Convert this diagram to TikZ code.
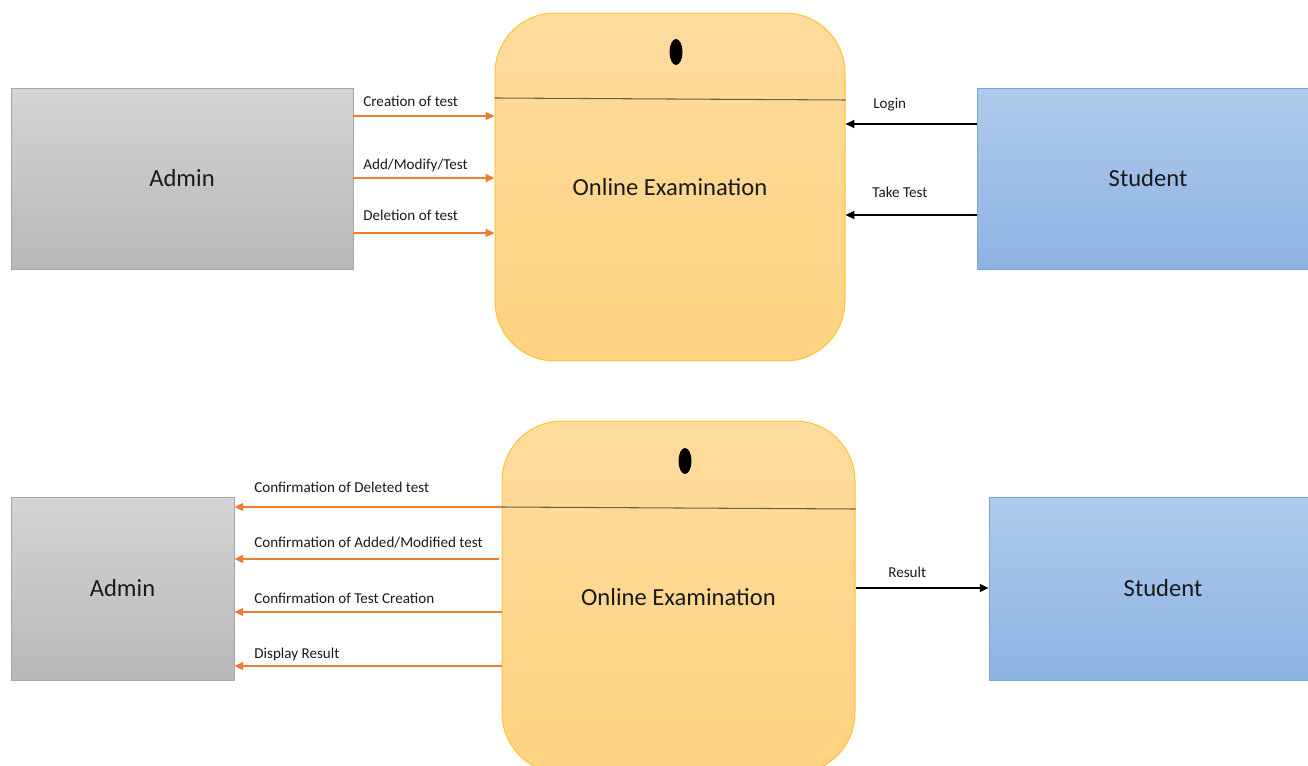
\documentclass[tikz,border=0pt]{standalone}
\usepackage{fontspec}
\setmainfont{Carlito}
\usetikzlibrary{arrows.meta}
\definecolor{orangeA}{HTML}{ED7D31}
\definecolor{examTop}{HTML}{FEDC9E}
\definecolor{examBot}{HTML}{FED380}
\definecolor{examBorder}{HTML}{FFC53A}
\definecolor{admTop}{HTML}{D4D4D4}
\definecolor{admBot}{HTML}{B8B8B8}
\definecolor{admBorder}{HTML}{A6A6A6}
\definecolor{stuTop}{HTML}{AECAEB}
\definecolor{stuBot}{HTML}{8DB3E2}
\definecolor{stuBorder}{HTML}{7EA4D5}
\definecolor{sepLine}{HTML}{6E6048}
\definecolor{txt}{HTML}{1A1A1A}
\begin{document}
\begin{tikzpicture}[x=0.02cm,y=-0.02cm,
  admbox/.style={draw=admBorder,line width=0.5pt,top color=admTop,bottom color=admBot,font=\fontsize{14}{16}\selectfont,text=txt},
  stubox/.style={draw=stuBorder,line width=0.5pt,top color=stuTop,bottom color=stuBot,font=\fontsize{14}{16}\selectfont,text=txt},
  exambox/.style={draw=examBorder,line width=0.6pt,top color=examTop,bottom color=examBot,rounded corners=1.2cm,font=\fontsize{14}{16}\selectfont,text=txt},
  oarrow/.style={draw=orangeA,line width=0.9pt,-{Triangle[length=5pt,width=4.5pt]}},
  karrow/.style={draw=black,line width=0.9pt,-{Triangle[length=5pt,width=4.5pt]}},
  lbl/.style={anchor=base west,inner sep=0pt,font=\fontsize{8.6}{10}\selectfont,text=txt},
  sep/.style={draw=sepLine,line width=0.6pt},
  dot/.style={fill=black}
]
\useasboundingbox (0,0) rectangle (1308,766);

% ---------- top diagram ----------
\node[admbox,minimum width=6.84cm,minimum height=3.62cm] (admin1) at (182,178.5) {Admin};
\node[exambox,minimum width=7.0cm,minimum height=6.96cm] (exam1) at (670,187) {Online Examination};
\node[stubox,minimum width=6.84cm,minimum height=3.62cm] (student1) at (1148,178.5) {Student};
\draw[sep] (exam1.west |- 0,98) -- (exam1.east |- 0,100);
\fill[dot] (676,52) ellipse [x radius=0.13cm,y radius=0.26cm];

\draw[oarrow] (admin1.east |- 0,116) -- (exam1.west |- 0,116);
\draw[oarrow] (admin1.east |- 0,178) -- (exam1.west |- 0,178);
\draw[oarrow] (admin1.east |- 0,233) -- (exam1.west |- 0,233);
\node[lbl] (l1) at (363,107) {Creation of test};
\node[lbl] (l2) at (363,170) {Add/Modify/Test};
\node[lbl] (l3) at (363,221) {Deletion of test};

\draw[karrow] (student1.west |- 0,124) -- (exam1.east |- 0,124);
\draw[karrow] (student1.west |- 0,215) -- (exam1.east |- 0,215);
\node[lbl] (l4) at (873,109) {Login};
\node[lbl] (l5) at (872,198) {Take Test};

% ---------- bottom diagram ----------
\node[admbox,minimum width=4.46cm,minimum height=3.66cm] (admin2) at (122.5,588.5) {Admin};
\node[exambox,minimum width=7.06cm,minimum height=7.04cm] (exam2) at (678.5,597) {Online Examination};
\node[stubox,minimum width=6.96cm,minimum height=3.66cm] (student2) at (1163,588.5) {Student};
\draw[sep] (exam2.west |- 0,507) -- (exam2.east |- 0,509);
\fill[dot] (685,461) ellipse [x radius=0.13cm,y radius=0.26cm];

\draw[oarrow] (exam2.west |- 0,507) -- (admin2.east |- 0,507);
\draw[oarrow] ([xshift=-0.06cm]exam2.west |- 0,559) -- (admin2.east |- 0,559);
\draw[oarrow] (exam2.west |- 0,612) -- (admin2.east |- 0,612);
\draw[oarrow] (exam2.west |- 0,666) -- (admin2.east |- 0,666);
\node[lbl] (l6) at (254,493) {Confirmation of Deleted test};
\node[lbl] (l7) at (254,547) {Confirmation of Added/Modified test};
\node[lbl] (l8) at (254,603) {Confirmation of Test Creation};
\node[lbl] (l9) at (254,658) {Display Result};

\draw[karrow] (exam2.east |- 0,588) -- (student2.west |- 0,588);
\node[lbl] (l10) at (888,577) {Result};
\end{tikzpicture}
\end{document}
